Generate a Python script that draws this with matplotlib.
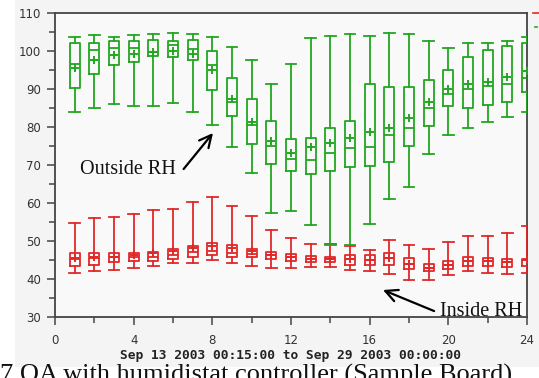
import matplotlib
matplotlib.use("Agg")
import matplotlib.pyplot as plt
from matplotlib.patches import Rectangle
from matplotlib.lines import Line2D

hours = list(range(1, 25))

# Outside RH (green)
g_low = [83.9, 85.1, 86.0, 85.4, 85.4, 86.4, 83.9, 80.5, 74.7, 67.8, 57.4, 57.9,
         54.2, 49.0, 48.9, 54.6, 61.1, 64.2, 72.8, 78.0, 79.8, 81.4, 82.7, 83.9]
g_q1 = [90.3, 94.0, 96.2, 97.1, 98.7, 98.4, 97.7, 89.8, 82.9, 75.5, 70.3, 68.3,
        67.6, 68.4, 69.4, 69.7, 70.9, 75.0, 80.2, 85.4, 85.1, 85.7, 86.7, 89.3]
g_med = [96.5, 100.2, 100.9, 100.9, 99.8, 101.6, 100.5, 96.2, 86.7, 80.5, 75.0, 71.5,
         71.2, 73.1, 74.4, 74.7, 78.0, 79.8, 85.1, 88.8, 90.0, 90.9, 91.3, 92.8]
g_mean = [95.5, 97.7, 99.0, 99.3, 99.7, 100.0, 99.2, 95.0, 87.5, 81.4, 76.2, 73.1,
          74.7, 75.9, 77.1, 78.6, 79.8, 82.3, 86.6, 90.0, 91.3, 91.9, 93.1, 94.7]
g_q3 = [102.1, 102.1, 102.6, 102.6, 103.0, 102.6, 103.0, 99.9, 93.0, 87.3, 81.7, 76.8,
        77.1, 79.8, 81.7, 91.3, 90.6, 90.6, 92.5, 94.9, 98.3, 100.2, 101.4, 102.0]
g_high = [103.8, 104.2, 103.8, 104.2, 104.5, 104.8, 104.5, 103.8, 101.1, 97.7, 91.3, 96.5,
          103.3, 103.9, 104.5, 103.9, 104.8, 104.5, 102.6, 100.8, 102.0, 102.0, 102.6, 103.6]

# Inside RH (red)
r_low = [41.6, 42.0, 42.5, 42.9, 43.5, 44.1, 44.3, 45.0, 44.3, 43.4, 42.8, 42.8,
         43.1, 43.1, 42.5, 42.0, 41.2, 39.7, 39.7, 41.0, 42.2, 41.7, 41.3, 41.7]
r_q1 = [43.5, 43.8, 44.4, 44.8, 44.8, 45.3, 45.9, 46.4, 45.9, 45.7, 45.3, 44.8,
        44.4, 44.4, 43.8, 43.8, 43.8, 42.6, 42.0, 42.6, 43.4, 43.4, 43.2, 43.4]
r_med = [45.3, 45.5, 45.7, 45.8, 45.7, 46.2, 47.2, 47.5, 46.9, 46.7, 46.3, 45.9,
         45.3, 45.2, 45.2, 45.0, 45.5, 43.9, 43.0, 43.6, 44.7, 44.7, 44.5, 45.0]
r_mean = [45.5, 45.7, 45.8, 46.4, 46.9, 47.3, 48.2, 48.6, 48.1, 47.5, 46.3, 45.9,
          45.3, 45.2, 45.2, 45.0, 45.5, 43.9, 43.0, 43.6, 44.7, 44.7, 44.5, 45.0]
r_q3 = [46.8, 46.8, 46.8, 46.8, 47.1, 48.0, 48.8, 49.6, 48.9, 48.0, 47.2, 46.5,
        46.1, 45.8, 46.4, 46.4, 46.8, 45.6, 44.0, 44.8, 45.7, 45.4, 45.2, 45.3]
r_high = [54.8, 56.0, 56.2, 57.2, 58.1, 58.4, 60.3, 61.6, 59.1, 56.7, 53.0, 50.9,
          49.3, 49.3, 48.6, 47.7, 50.3, 48.9, 48.0, 49.7, 51.2, 51.4, 52.1, 54.0]

x_ticks = [0, 4, 8, 12, 16, 20, 24]
y_ticks = [30, 40, 50, 60, 70, 80, 90, 100, 110]
x_label = "Sep 13 2003 00:15:00 to Sep 29 2003 00:00:00"
caption = "7 QA with humidistat controller (Sample Board)"

GREEN = "#22a622"
RED = "#e02828"
SPINE = "#444444"

W, H = 539, 378
fig = plt.figure(figsize=(W / 100, H / 100), dpi=100, facecolor="white")
bg = Rectangle((15 / W, 1 - 367 / H), 1 - 15 / W, 367 / H,
               transform=fig.transFigure, facecolor="#f4f4f4",
               edgecolor="none", zorder=-10)
fig.add_artist(bg)
ax = fig.add_axes([55 / W, 1 - 317 / H, (527 - 55) / W, (317 - 13) / H])
ax.set_zorder(1)
ax.set_facecolor("#f9f9f9")


def stats(low, q1, med, mean, q3, high):
    return [dict(whislo=a, q1=b, med=c, mean=d, q3=e, whishi=f)
            for a, b, c, d, e, f in zip(low, q1, med, mean, q3, high)]


def draw(st, color, z):
    lp = dict(color=color, linewidth=1.3)
    ax.bxp(st, positions=hours, widths=0.5, capwidths=0.55, showmeans=True,
           showfliers=False, boxprops=lp, whiskerprops=lp, capprops=lp,
           medianprops=lp,
           meanprops=dict(marker="+", markeredgecolor=color, markersize=6,
                          markeredgewidth=1.4, linestyle="none"),
           manage_ticks=False, zorder=z)


draw(stats(r_low, r_q1, r_med, r_mean, r_q3, r_high), RED, 3)
draw(stats(g_low, g_q1, g_med, g_mean, g_q3, g_high), GREEN, 4)

ax.set_xlim(0, 24)
ax.set_ylim(30, 110)
ax.set_xticks(x_ticks)
ax.set_xticks(range(0, 25, 2), minor=True)
ax.set_yticks(y_ticks)
ax.set_yticks(range(35, 110, 10), minor=True)
for s in ax.spines.values():
    s.set_color(SPINE)
    s.set_linewidth(1.3)
ax.tick_params(which="both", direction="out", color=SPINE, width=1.1,
               labelsize=8.5, labelcolor="#333333")
ax.tick_params(which="major", length=6)
ax.tick_params(which="minor", length=4)
ax.tick_params(axis="x", pad=6)
ax.tick_params(axis="y", pad=4)

fig.text(290 / W, 1 - 356 / H, x_label, ha="center", va="center",
         family="DejaVu Sans Mono", fontweight="bold", fontsize=9.3, color="#222222")

ax.annotate("Outside RH", xy=(213 / W, 1 - 133 / H), xycoords="figure fraction",
            xytext=(128 / W, 1 - 170 / H), textcoords="figure fraction",
            ha="center", va="center", family="Liberation Serif", fontsize=14.5,
            color="#111111", annotation_clip=False,
            arrowprops=dict(arrowstyle="->,head_length=0.6,head_width=0.3",
                            color="black", lw=1.6,
                            shrinkA=0, shrinkB=0, relpos=(1.08, 0.55)))
ax.annotate("Inside RH", xy=(383 / W, 1 - 290 / H), xycoords="figure fraction",
            xytext=(481 / W, 1 - 312 / H), textcoords="figure fraction",
            ha="center", va="center", family="Liberation Serif", fontsize=14.5,
            color="#111111", annotation_clip=False,
            arrowprops=dict(arrowstyle="->,head_length=0.6,head_width=0.3",
                            color="black", lw=1.6,
                            shrinkA=0, shrinkB=0, relpos=(-0.07, 0.55)))

fig.text(0, -4 / H, caption, ha="left", va="baseline", family="Liberation Serif",
         fontsize=19, color="#111111")

fig.add_artist(Line2D([533 / W, 539 / W], [1 - 13 / H, 1 - 13 / H],
                      transform=fig.transFigure, color=RED, lw=1.2))
fig.add_artist(Line2D([535 / W, 537 / W], [1 - 27 / H, 1 - 27 / H],
                      transform=fig.transFigure, color=GREEN, lw=1.2))

fig.savefig("out.png", dpi=100, facecolor=fig.get_facecolor())
